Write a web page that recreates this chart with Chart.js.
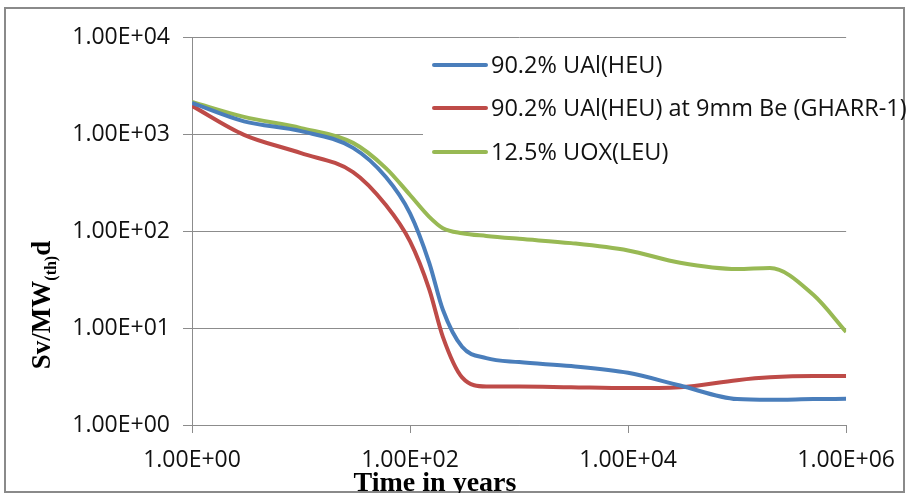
<!DOCTYPE html>
<html>
<head>
<meta charset="utf-8">
<script src="https://cdn.jsdelivr.net/npm/chart.js@4"></script>
<style>
  html, body { margin: 0; padding: 0; background: #fff; }
  #wrap { width: 909px; height: 493px; position: relative; }
</style>
</head>
<body>
<div id="wrap"><canvas id="myChart"></canvas></div>
<script>
const tickFont = '"Open Sans", "Liberation Sans", sans-serif';
const titleFont = '"Liberation Serif", "DejaVu Serif", serif';

// time in years (log axis)
const times = [1, 3, 10, 30, 60, 100, 150, 200, 300, 500, 1000, 3000, 1e4, 3e4, 1e5, 2e5, 5e5, 1e6];
const heu = [2090, 1350, 1070, 720, 360, 152, 47, 15.4, 6.4, 4.9, 4.45, 4.05, 3.45, 2.55, 1.85, 1.82, 1.85, 1.86];
const heuBe = [1950, 980, 635, 405, 185, 78, 25, 8.1, 3.1, 2.5, 2.5, 2.45, 2.4, 2.45, 2.9, 3.1, 3.2, 3.2];
const leu = [2140, 1500, 1150, 810, 445, 235, 140, 107, 95, 89, 83, 75, 63, 47, 40.5, 41.5, 22, 9.1];

const seriesLabels = ["90.2% UAl(HEU)", "90.2% UAl(HEU) at 9mm Be (GHARR-1)", "12.5% UOX(LEU)"];
const seriesColors = ["#4a7ebb", "#be4b48", "#98b954"];

const xTickValues = [1, 1e2, 1e4, 1e6];
const xTickLabels = ["1.00E+00", "1.00E+02", "1.00E+04", "1.00E+06"];
const yTickValues = [1, 10, 1e2, 1e3, 1e4];
const yTickLabels = ["1.00E+00", "1.00E+01", "1.00E+02", "1.00E+03", "1.00E+04"];

const xTitle = "Time in years";
const yTitle = ["Sv/MW", "(th)", "d"];

const gridColor = "#8c8c8c";

function toPoints(vals) {
  return times.map((t, i) => ({ x: t, y: vals[i] }));
}

const decorPlugin = {
  id: "decor",
  beforeDraw(chart) {
    const c = chart.ctx;
    c.save();
    c.strokeStyle = "#8a8a8a";
    c.lineWidth = 2;
    c.strokeRect(5, 8, 899, 484);
    c.restore();
  },
  afterDraw(chart) {
    const c = chart.ctx;
    c.save();
    // legend box
    c.fillStyle = "#fff";
    c.fillRect(423, 44, 480, 128);
    const rows = [65, 108, 152];
    chart.data.datasets.forEach((ds, i) => {
      c.strokeStyle = ds.borderColor;
      c.lineWidth = 4;
      c.lineCap = "round";
      c.beginPath();
      c.moveTo(434, rows[i]);
      c.lineTo(486, rows[i]);
      c.stroke();
      c.fillStyle = "#111";
      c.font = "23.5px " + tickFont;
      c.textAlign = "left";
      c.textBaseline = "middle";
      c.fillText(ds.label, 491, rows[i] + 1);
    });

    // x title
    c.fillStyle = "#000";
    c.font = "bold 28px " + titleFont;
    c.textAlign = "center";
    c.textBaseline = "alphabetic";
    c.fillText(xTitle, 435, 491);

    // y title with subscript
    c.translate(50, 305);
    c.rotate(-Math.PI / 2);
    const big = "bold 27px " + titleFont;
    const small = "bold 16px " + titleFont;
    c.font = big;
    const w0 = c.measureText(yTitle[0]).width;
    const w2 = c.measureText(yTitle[2]).width;
    c.font = small;
    const w1 = c.measureText(yTitle[1]).width;
    let x = -(w0 + w1 + w2) / 2;
    c.textAlign = "left";
    c.font = big;
    c.fillText(yTitle[0], x, 0);
    x += w0;
    c.font = small;
    c.fillText(yTitle[1], x, 6);
    x += w1;
    c.font = big;
    c.fillText(yTitle[2], x, 0);
    c.restore();
  },
};

const ctx = document.getElementById("myChart");
const myChart = new Chart(ctx, {
  type: "line",
  data: {
    datasets: [heu, heuBe, leu].map((vals, i) => ({
      label: seriesLabels[i],
      data: toPoints(vals),
      borderColor: seriesColors[i],
      backgroundColor: seriesColors[i],
      borderWidth: 4,
      pointRadius: 0,
      cubicInterpolationMode: "monotone",
      fill: false,
    })),
  },
  options: {
    responsive: true,
    maintainAspectRatio: false,
    animation: false,
    layout: { padding: { left: 0, top: 37, right: 61, bottom: 0 } },
    scales: {
      x: {
        type: "logarithmic",
        min: 1,
        max: 1e6,
        afterBuildTicks: (s) => { s.ticks = xTickValues.map((v) => ({ value: v })); },
        afterFit: (s) => { s.height = 68; },
        grid: { drawOnChartArea: false, drawTicks: true, tickLength: 8, color: gridColor },
        border: { display: true, color: gridColor, width: 1 },
        ticks: {
          autoSkip: false,
          maxRotation: 0,
          padding: 14,
          color: "#111",
          font: { family: tickFont, size: 23 },
          callback: (v) => xTickLabels[xTickValues.indexOf(v)],
        },
      },
      y: {
        type: "logarithmic",
        min: 1,
        max: 1e4,
        afterBuildTicks: (s) => { s.ticks = yTickValues.map((v) => ({ value: v })); },
        afterFit: (s) => { s.width = 192; },
        grid: { drawOnChartArea: true, drawTicks: true, tickLength: 9, color: gridColor },
        border: { display: true, color: gridColor, width: 1 },
        ticks: {
          padding: 13,
          color: "#111",
          font: { family: tickFont, size: 23 },
          callback: (v) => yTickLabels[yTickValues.indexOf(v)],
        },
      },
    },
    plugins: {
      legend: { display: false },
      tooltip: { enabled: false },
    },
  },
  plugins: [decorPlugin],
});
</script>
</body>
</html>
